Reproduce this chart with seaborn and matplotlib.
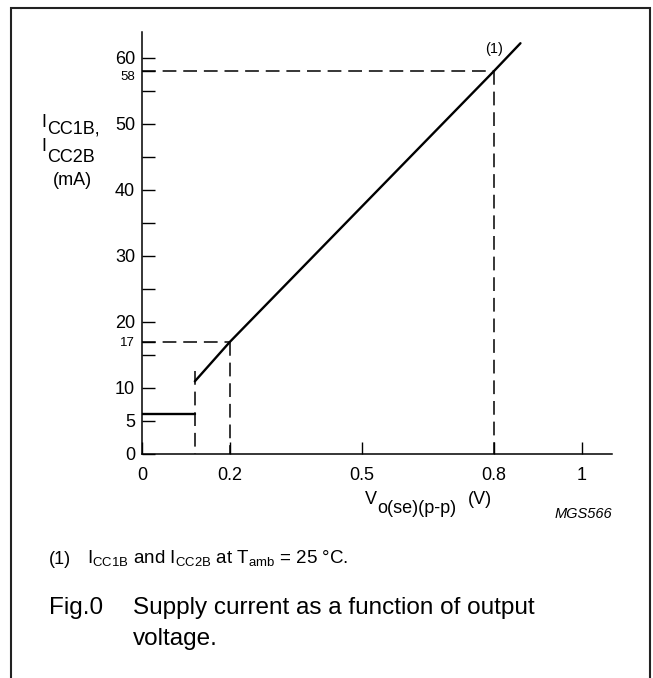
import numpy as np
import pandas as pd
import seaborn as sns
import matplotlib.pyplot as plt
from matplotlib.patches import Rectangle

# values
flat_v = [0.0, 0.12]            # output voltage (V), low segment
flat_i = [6.0, 6.0]             # supply current (mA)
curve_v = [0.12, 0.2, 0.8, 0.86]
curve_i = [11.0, 17.0, 58.0, 62.2]

# dashed guide lines
guide_x = [[0.0, 0.8], [0.8, 0.8], [0.0, 0.2], [0.2, 0.2], [0.12, 0.12]]
guide_y = [[58, 58], [58, 0], [17, 17], [17, 0], [12.5, 0]]

xticks = [0, 0.2, 0.5, 0.8, 1.0]
xtick_labels = ["0", "0.2", "0.5", "0.8", "1"]
yticks = [0, 5, 10, 17, 20, 30, 40, 50, 58, 60]
ytick_labels = ["0", "5", "10", "17", "20", "30", "40", "50", "", "60"]
yminor = [15, 25, 35, 45, 55]

sns.set_style("ticks")
plt.rcParams['font.family'] = ['Liberation Sans', 'DejaVu Sans']
plt.rcParams['mathtext.fontset'] = 'custom'
plt.rcParams['mathtext.rm'] = 'Liberation Sans'
plt.rcParams['text.color'] = 'black'
plt.rcParams['axes.labelcolor'] = 'black'
plt.rcParams['xtick.color'] = 'black'
plt.rcParams['ytick.color'] = 'black'

W, H = 653, 678
fig = plt.figure(figsize=(W / 100, H / 100), dpi=100)
ax = fig.add_axes([142 / W, 1 - 454 / H, (612 - 142) / W, (454 - 32) / H])


def fx(px):
    return px / W


def fy(py):
    return 1 - py / H


# curve
df_flat = pd.DataFrame({"v": flat_v, "i": flat_i})
df_curve = pd.DataFrame({"v": curve_v, "i": curve_i})
sns.lineplot(data=df_flat, x="v", y="i", estimator=None, sort=False,
             color="black", lw=1.7, ax=ax)
sns.lineplot(data=df_curve, x="v", y="i", estimator=None, sort=False,
             color="black", lw=1.7, ax=ax)

for gx, gy in zip(guide_x, guide_y):
    ax.plot(gx, gy, color="black", lw=1.1, linestyle=(0, (9, 4.5)))

ax.set_xlim(0, 1.068)
ax.set_ylim(0, 63.9)
ax.set_xlabel("")
ax.set_ylabel("")
sns.despine(ax=ax)
for s in ["left", "bottom"]:
    ax.spines[s].set_linewidth(1.1)
    ax.spines[s].set_color("black")

ax.set_xticks(xticks)
ax.set_xticklabels(xtick_labels)
ax.set_yticks(yticks)
ax.set_yticklabels(ytick_labels)
ax.set_yticks(yminor, minor=True)
ax.tick_params(axis="both", which="both", direction="in", length=9, width=1,
               color="black", labelsize=13, labelcolor="black")
ax.tick_params(axis="x", pad=9)
ax.tick_params(axis="y", pad=5)
for lab in ax.get_yticklabels():
    if lab.get_text() == "17":
        lab.set_fontsize(9.5)
# the 58 label sits a little below its tick
ax.annotate("58", xy=(0, 58), xycoords=("axes fraction", "data"),
            xytext=(-5, -4), textcoords="offset points",
            ha="right", va="center", fontsize=9.5)

ax.text(0.80, 61.3, "(1)", ha="center", va="center", fontsize=10.5)

# y label, stacked
fig.text(fx(41), fy(127), "I", fontsize=13, va="baseline")
fig.text(fx(47), fy(133), "CC1B,", fontsize=13, va="baseline")
fig.text(fx(41), fy(151), "I", fontsize=13, va="baseline")
fig.text(fx(47), fy(162), "CC2B", fontsize=13, va="baseline")
fig.text(fx(72), fy(185), "(mA)", fontsize=13, va="baseline", ha="center")

# x label
fig.text(fx(365), fy(504), "V", fontsize=13, va="baseline")
fig.text(fx(377), fy(513), "o(se)(p-p)", fontsize=13, va="baseline")
fig.text(fx(492), fy(504), "(V)", fontsize=13, va="baseline", ha="right")

fig.text(fx(612), fy(518), "MGS566", fontsize=10.5, style="italic",
         va="baseline", ha="right")

# footnote and caption
fig.text(fx(49), fy(564), "(1)", fontsize=13, va="baseline")
fig.text(fx(87), fy(564),
         r"I$_{\mathregular{CC1B}}$ and I$_{\mathregular{CC2B}}$ at "
         r"T$_{\mathregular{amb}}$ = 25 °C.",
         fontsize=13.5, va="baseline")
fig.text(fx(49), fy(614), "Fig.0", fontsize=17.5, va="baseline")
fig.text(fx(133), fy(614), "Supply current as a function of output",
         fontsize=17.5, va="baseline")
fig.text(fx(133), fy(645), "voltage.", fontsize=17.5, va="baseline")

# frame round the whole figure
fig.patches.append(Rectangle((fx(11), -0.05), fx(650) - fx(11), fy(8) + 0.05,
                             transform=fig.transFigure, fill=False,
                             edgecolor="#222222", lw=1.5, clip_on=False))

fig.savefig("out.png", dpi=100)
